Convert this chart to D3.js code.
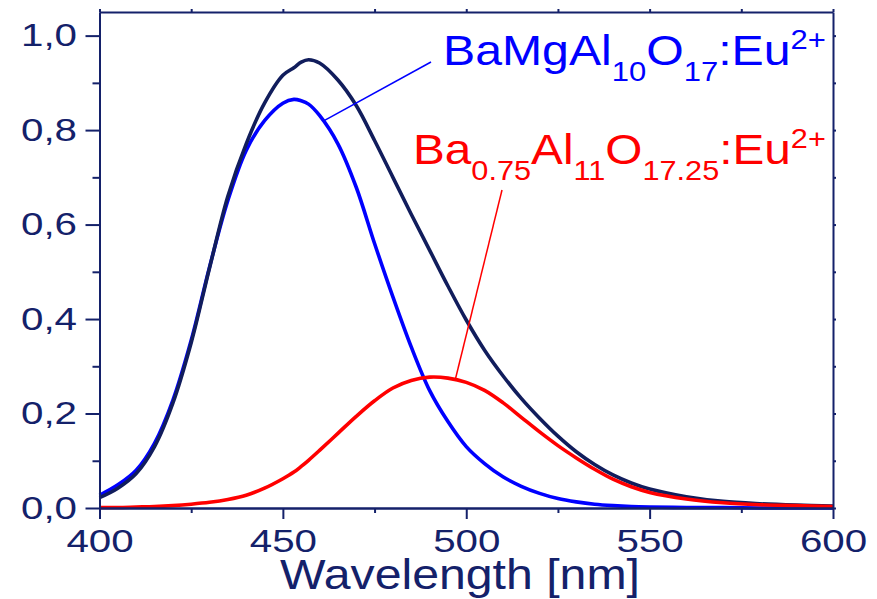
<!DOCTYPE html>
<html lang="en">
  <head>
    <meta charset="utf-8">
    <title>Emission spectra</title>
    <script src="https://d3js.org/d3.v7.js"></script>
    <style>
      body { margin: 0; background: #fff; }
      text { font-family: "Liberation Sans", Arial, sans-serif; }
    </style>
  </head>
  <body>
  <script>

// Data (relative intensity)

  var wavelengths = [400, 405, 410, 415, 420, 425, 430, 435, 440, 445, 450, 453, 455, 457, 460,
    465, 470, 475, 480, 485, 490, 495, 500, 505, 510, 515, 520, 525, 530, 535, 540, 545, 550,
    560, 570, 580, 590, 600];

  var bamSeries = [0.027, 0.049, 0.080, 0.137, 0.228, 0.355, 0.510, 0.651, 0.757, 0.820, 0.857,
    0.865, 0.862, 0.855, 0.831, 0.771, 0.679, 0.560, 0.447, 0.341, 0.249, 0.183, 0.130, 0.094,
    0.066, 0.046, 0.031, 0.020, 0.013, 0.008, 0.005, 0.003, 0.002, 0.001, 0.001, 0, 0, 0];

  var baAlSeries = [0.001, 0.001, 0.002, 0.003, 0.005, 0.008, 0.012, 0.018, 0.027, 0.042, 0.062,
    0.076, 0.088, 0.101, 0.122, 0.158, 0.194, 0.227, 0.254, 0.270, 0.277, 0.275, 0.266, 0.249,
    0.223, 0.192, 0.161, 0.132, 0.106, 0.082, 0.061, 0.045, 0.033, 0.019, 0.011, 0.007, 0.005, 0.003];

  var sumSeries = [0.022, 0.042, 0.073, 0.130, 0.222, 0.350, 0.508, 0.660, 0.771, 0.857, 0.916,
    0.932, 0.944, 0.949, 0.942, 0.906, 0.852, 0.778, 0.700, 0.622, 0.546, 0.470, 0.398, 0.334,
    0.280, 0.232, 0.190, 0.152, 0.119, 0.092, 0.070, 0.053, 0.040, 0.024, 0.014, 0.009, 0.006, 0.004];

  var xMajorTicks = [400, 450, 500, 550, 600];
  var xMinorTicks = [425, 475, 525, 575];
  var yMajorTicks = [0, 0.2, 0.4, 0.6, 0.8, 1.0];
  var yMinorTicks = [0.1, 0.3, 0.5, 0.7, 0.9];

  var xTitle = "Wavelength [nm]";
  var bamLabel = [["BaMgAl", ""], ["10", "sub"], ["O", ""], ["17", "sub"], [":Eu", ""], ["2+", "sup"]];
  var baAlLabel = [["Ba", ""], ["0.75", "sub"], ["Al", ""], ["11", "sub"], ["O", ""], ["17.25", "sub"], [":Eu", ""], ["2+", "sup"]];
  // leader anchors on the curves (wavelength)
  var bamAnchor = 461;
  var baAlAnchor = 497;

// Layout

  var w = 877;
  var h = 599;
  var margin = {top: 12, right: 44, bottom: 91, left: 99.5};
  var innerWidth = w - margin.left - margin.right;
  var innerHeight = h - margin.top - margin.bottom;
  var navy = "#14216a";
  var curveNavy = "#111d5c";
  var font = "'Liberation Sans', Arial, sans-serif";

  var svg = d3.select("body")
    .append("svg")
      .attr("width", w)
      .attr("height", h);

  var g = svg.append("g")
      .attr("transform", `translate(${margin.left}, ${margin.top})`);

  var xScale = d3.scaleLinear()
      .domain([400, 600])
      .range([0, innerWidth]);

  var yScale = d3.scaleLinear()
      .domain([0, 1.05])
      .range([innerHeight, 0]);

// Curves

  var line = d3.line()
      .x(d => xScale(d[0]))
      .y(d => yScale(d[1]))
      .curve(d3.curveCatmullRom.alpha(0.5));

  function pairs(values) {
    return wavelengths.map((wl, i) => [wl, values[i]]);
  }

  g.append("path")
      .datum(pairs(bamSeries))
      .attr("d", line)
      .attr("fill", "none")
      .attr("stroke", "#0000ff")
      .attr("stroke-width", 3.6);

  g.append("path")
      .datum(pairs(sumSeries))
      .attr("d", line)
      .attr("fill", "none")
      .attr("stroke", curveNavy)
      .attr("stroke-width", 3.6);

  g.append("path")
      .datum(pairs(baAlSeries))
      .attr("d", line)
      .attr("fill", "none")
      .attr("stroke", "#ff0000")
      .attr("stroke-width", 3.6);

// Axes

  var fmt = d => d3.format(".1f")(d).replace(".", ",");

  g.append("g")
      .attr("class", "xAxis")
      .attr("transform", `translate(0, ${innerHeight})`)
      .call(d3.axisBottom(xScale).tickValues(xMajorTicks).tickSize(11).tickPadding(10).tickSizeOuter(0))
      .attr("font-size", 32)
      .attr("font-family", font);

  g.append("g")
      .attr("transform", `translate(0, ${innerHeight})`)
      .call(d3.axisBottom(xScale).tickValues(xMinorTicks).tickSize(5).tickFormat("").tickSizeOuter(0));

  g.append("g")
      .attr("class", "yAxis")
      .call(d3.axisLeft(yScale).tickValues(yMajorTicks).tickSize(14).tickPadding(8.5).tickFormat(fmt).tickSizeOuter(0))
      .attr("font-size", 32)
      .attr("font-family", font);

  g.append("g")
      .call(d3.axisLeft(yScale).tickValues(yMinorTicks).tickSize(7).tickFormat("").tickSizeOuter(0));

  g.append("g")
      .call(d3.axisTop(xScale).tickValues(xMajorTicks.concat(xMinorTicks)).tickSize(3).tickFormat("").tickSizeOuter(0));

  g.append("g")
      .attr("transform", `translate(${innerWidth}, 0)`)
      .call(d3.axisRight(yScale).tickValues(yMajorTicks.concat(yMinorTicks)).tickSize(3).tickFormat("").tickSizeOuter(0));

  g.selectAll(".domain, .tick line")
      .attr("stroke", navy)
      .attr("stroke-width", 2);

  g.selectAll(".tick text")
      .attr("fill", navy)
      .each(function () {
        // the original lettering is wider than plain Arial
        var len = this.getComputedTextLength();
        d3.select(this)
            .attr("textLength", len * 1.26)
            .attr("lengthAdjust", "spacingAndGlyphs");
      });

// Axis title

  svg.append("text")
      .attr("fill", navy)
      .attr("font-size", 42)
      .attr("font-family", font)
      .attr("text-anchor", "middle")
      .attr("x", 460)
      .attr("y", 589)
      .attr("textLength", 360)
      .attr("lengthAdjust", "spacingAndGlyphs")
      .text(xTitle);

// Chemical labels

  function chemLabel(parts, color, x0, x1, baseline) {
    var t = svg.append("text")
        .attr("fill", color)
        .attr("font-family", font)
        .attr("font-size", 42);
    var shift = 0;
    parts.forEach(p => {
      var target = p[1] == "sub" ? 16 : p[1] == "sup" ? -16 : 0;
      t.append("tspan")
          .attr("dy", target - shift)
          .attr("font-size", p[1] ? 27 : 42)
          .text(p[0]);
      shift = target;
    });
    var bw = t.node().getBBox().width;
    t.attr("transform", `translate(${x0}, ${baseline}) scale(${(x1 - x0) / bw}, 1)`);
  }

  chemLabel(bamLabel, "#0000ff", 443, 826, 65);
  chemLabel(baAlLabel, "#ff0000", 413, 826, 164);

// Leader lines

  function valueAt(series, wl) {
    var i = d3.bisectLeft(wavelengths, wl);
    var a = wavelengths[i - 1], b = wavelengths[i];
    return series[i - 1] + (series[i] - series[i - 1]) * (wl - a) / (b - a);
  }

  g.append("line")
      .attr("x1", xScale(bamAnchor))
      .attr("y1", yScale(valueAt(bamSeries, bamAnchor)))
      .attr("x2", 431 - margin.left)
      .attr("y2", 62 - margin.top)
      .attr("stroke", "#0000ff")
      .attr("stroke-width", 1.5);

  g.append("line")
      .attr("x1", xScale(baAlAnchor))
      .attr("y1", yScale(valueAt(baAlSeries, baAlAnchor)))
      .attr("x2", 502 - margin.left)
      .attr("y2", 190 - margin.top)
      .attr("stroke", "#ff0000")
      .attr("stroke-width", 1.5);

  </script>
  </body>
</html>
